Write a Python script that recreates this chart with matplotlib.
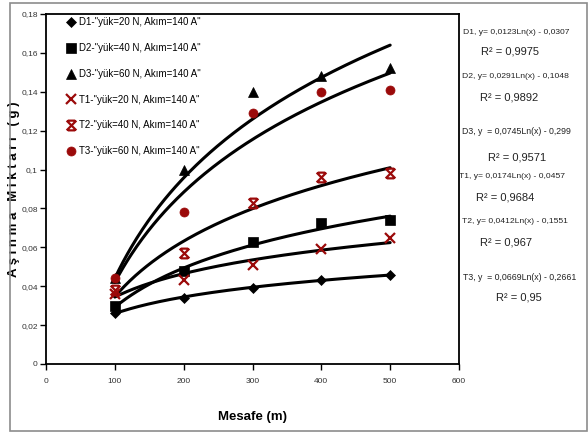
import numpy as np
import matplotlib
matplotlib.use("Agg")
import matplotlib.pyplot as plt
from matplotlib.lines import Line2D
from matplotlib.path import Path
from matplotlib.patches import Rectangle
from matplotlib.ticker import FixedLocator, FuncFormatter

plt.rcParams['font.family'] = ['Liberation Sans', 'DejaVu Sans']

# Sliding distance (m)
distance = [100, 200, 300, 400, 500]

# Measured wear amounts (g)
d1 = [0.026, 0.034, 0.039, 0.043, 0.046]
d2 = [0.030, 0.048, 0.063, 0.0725, 0.074]
d3 = [0.044, 0.100, 0.140, 0.148, 0.152]
t1 = [0.036, 0.043, 0.051, 0.059, 0.065]
t2 = [0.038, 0.057, 0.083, 0.096, 0.098]
t3 = [0.044, 0.078, 0.129, 0.140, 0.141]

series_names = ['D1', 'D2', 'D3', 'T1', 'T2', 'T3']
legend_labels = [
    'D1-"yük=20 N, Akım=140 A"',
    'D2-"yük=40 N, Akım=140 A"',
    'D3-"yük=60 N, Akım=140 A"',
    'T1-"yük=20 N, Akım=140 A"',
    'T2-"yük=40 N, Akım=140 A"',
    'T3-"yük=60 N, Akım=140 A"',
]

# Logarithmic trend lines: y = a*ln(x) + b
fit_a = [0.0123, 0.0291, 0.0745, 0.0174, 0.0412, 0.0669]
fit_b = [-0.0307, -0.1048, -0.299, -0.0457, -0.1551, -0.2661]
r_squared = ['0,9975', '0,9892', '0,9571', '0,9684', '0,967', '0,95']
equation_texts = [
    'D1, y= 0,0123Ln(x) - 0,0307',
    'D2, y= 0,0291Ln(x) - 0,1048',
    'D3, y  = 0,0745Ln(x) - 0,299',
    'T1, y= 0,0174Ln(x) - 0,0457',
    'T2, y= 0,0412Ln(x) - 0,1551',
    'T3, y  = 0,0669Ln(x) - 0,2661',
]

x_ticks = [0, 100, 200, 300, 400, 500, 600]
y_ticks = [0, 0.02, 0.04, 0.06, 0.08, 0.1, 0.12, 0.14, 0.16, 0.18]

# hourglass-style cross marker
xbar_marker = Path(
    [(-1, -1), (1, 1), (-1, 1), (1, -1), (-0.75, 1), (0.75, 1), (-0.75, -1), (0.75, -1)],
    [Path.MOVETO, Path.LINETO] * 4,
)

dark_red = '#9b0a0a'
styles = [
    dict(marker='D', color='black', ms=5.5, mew=0.5),
    dict(marker='s', color='black', ms=6.5, mew=0.5),
    dict(marker='^', color='black', ms=7, mew=0.5),
    dict(marker='x', color=dark_red, ms=6.5, mew=1.6),
    dict(marker=xbar_marker, color=dark_red, ms=7, mew=1.6),
    dict(marker='o', color=dark_red, ms=6.5, mew=0.5),
]

W, H = 588, 432
fig = plt.figure(figsize=(W / 100, H / 100), dpi=100)
fig.patch.set_facecolor('white')

def fx(px):
    return px / W

def fy(py):
    return 1 - py / H

ax = fig.add_axes([fx(46), fy(364), fx(459) - fx(46), fy(14) - fy(364)])

all_values = [d1, d2, d3, t1, t2, t3]
xs = np.linspace(distance[0], distance[-1], 200)
for a, b in zip(fit_a, fit_b):
    ax.plot(xs, a * np.log(xs) + b, color='black', lw=2.2, zorder=2,
            solid_capstyle='round')

handles = []
for vals, st, lab in zip(all_values, styles, legend_labels):
    ax.plot(distance, vals, linestyle='none', marker=st['marker'],
            markersize=st['ms'], markerfacecolor=st['color'],
            markeredgecolor=st['color'], markeredgewidth=st['mew'], zorder=3)
    handles.append(Line2D([], [], linestyle='none', marker=st['marker'],
                          markersize=st['ms'], markerfacecolor=st['color'],
                          markeredgecolor=st['color'], markeredgewidth=st['mew'],
                          label=lab))

ax.set_xlim(0, 600)
ax.set_ylim(0, 0.18)
ax.xaxis.set_major_locator(FixedLocator(x_ticks))
ax.yaxis.set_major_locator(FixedLocator(y_ticks))
ax.yaxis.set_major_formatter(FuncFormatter(lambda v, p: '0' if v == 0 else ('%g' % round(v, 2)).replace('.', ',')))
ax.tick_params(axis='both', direction='out', length=4, width=1, labelsize=6,
               pad=2, labelcolor='#333333')
ax.tick_params(axis='x', pad=6)
for sp in ax.spines.values():
    sp.set_linewidth(1.3)
    sp.set_color('black')

ax.set_xlabel('Mesafe (m)', fontsize=9.5, fontweight='bold')
ax.xaxis.set_label_coords(0.5, -0.135)
ax.set_ylabel('A ş ı n m a   M i k t a r ı   ( g )', fontsize=9.5, fontweight='bold')
ax.yaxis.set_label_coords(-0.062, 0.5)

ax.legend(handles=handles, loc='upper left', frameon=False, fontsize=7,
          handlelength=0.9, handletextpad=0.35, labelspacing=1.62,
          borderaxespad=0.1, bbox_to_anchor=(0.038, 1.004))

# equation and R² annotations on the right
eq_y = [33, 77, 131, 177, 222, 277]
eq_x = [463, 462, 462, 459, 462, 463]
eq_size = [6.1, 6.1, 6.3, 6.1, 6.1, 6.3]
r2_y = [52, 97, 157, 197, 242, 298]
r2_x = [510, 509, 517, 505, 506, 519]
for name, eq, ey, ex, es, r2, ry, rx in zip(series_names, equation_texts, eq_y, eq_x,
                                            eq_size, r_squared, r2_y, r2_x):
    fig.text(fx(ex), fy(ey), eq, fontsize=es, ha='left', va='center', color='#222222')
    fig.text(fx(rx), fy(ry), 'R² = ' + r2, fontsize=8, ha='center', va='center',
             color='#222222')

fig.add_artist(Rectangle((fx(10), fy(431)), fx(587) - fx(10), fy(3) - fy(431),
                         transform=fig.transFigure, fill=False, edgecolor='#8c8c8c',
                         lw=1.2))

fig.savefig('out.png', dpi=100, facecolor='white')
